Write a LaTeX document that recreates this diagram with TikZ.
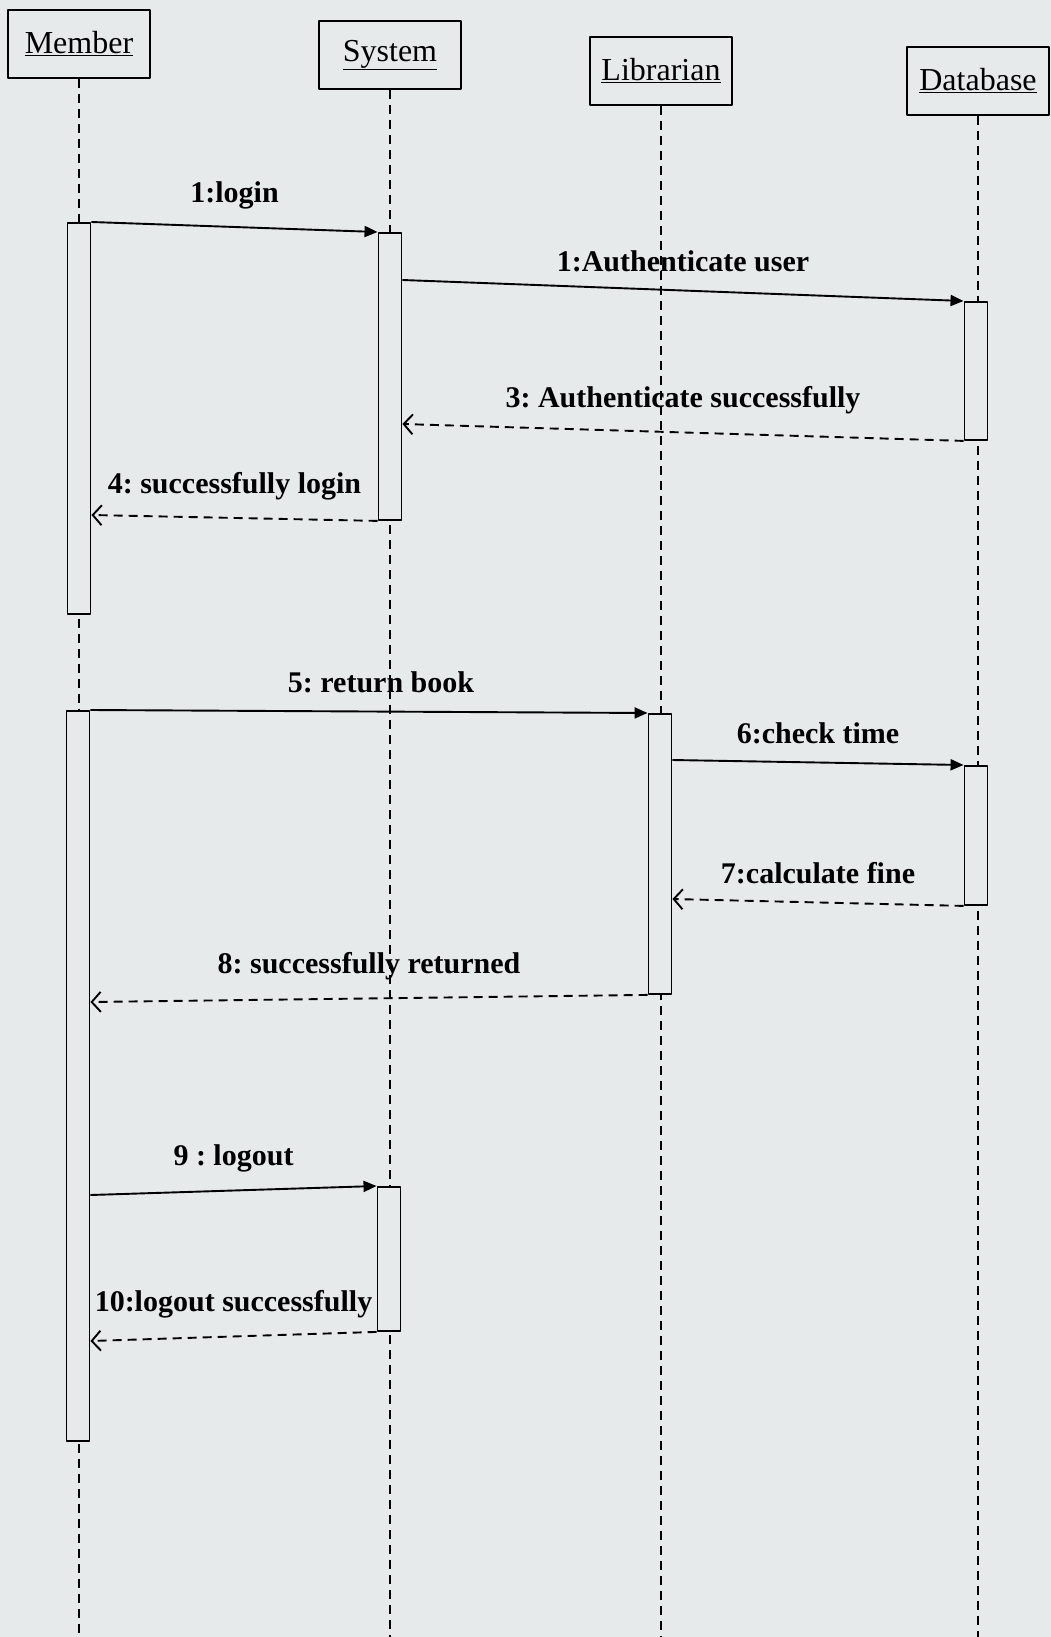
\documentclass[tikz,border=0pt]{standalone}
\usepackage{fontspec}
\setmainfont{Liberation Serif}
\usetikzlibrary{arrows.meta,calc}
\definecolor{paper}{RGB}{230,234,235}
\frenchspacing
\begin{document}
\begin{tikzpicture}[x=1pt,y=-1pt,line join=round,line width=1.9pt,
  head/.style={draw,fill=paper,minimum width=142pt,minimum height=68pt,font=\fontsize{32}{36}\selectfont},
  act/.style={draw,fill=paper,minimum width=23pt,anchor=north},
  life/.style={dash pattern=on 9pt off 6pt,line width=1.5pt},
  call/.style={-{Triangle[length=13pt,width=11pt]}},
  reply/.style={dash pattern=on 9pt off 6pt,-{Straight Barb[length=9pt,width=20pt]}},
  msg/.style={above=14pt,font=\bfseries\fontsize{30}{34}\selectfont}]
\fill[paper] (0,0) rectangle (1051,1637);
\useasboundingbox (0,0) rectangle (1051,1637);
% lifelines
\foreach \n/\t/\x/\y in {mem/Member/79/44, sys/System/390/55, lib/Librarian/661/71, db/Database/978/81}{
  \node[head] (\n) at (\x,\y) {\underline{\t}};
  \coordinate (\n end) at (\x,1637);
  \draw[life] (\n) -- (\n end);
}
% activations
\node[act,minimum height=391pt] (mem1) at (79,222) {};
\node[act,minimum height=287pt] (sys1) at (390,232) {};
\node[act,minimum height=138pt] (db1) at (976,301) {};
\node[act,minimum height=730pt] (mem2) at (78,710) {};
\node[act,minimum height=280pt] (lib1) at (660,713) {};
\node[act,minimum height=139pt] (db2) at (976,765) {};
\node[act,minimum height=144pt] (sys2) at (389,1186) {};
% login
\coordinate (s2) at (sys1.east |- 0,280);
\coordinate (s3) at (sys1.east |- 0,424);
\coordinate (m4) at (mem1.east |- 0,515);
\draw[call] (mem1.north east) -- (sys1.north west) node[msg,midway] {1:login};
\draw[call] (s2) -- (db1.north west) node[msg,midway] {1:Authenticate user};
\draw[reply] (db1.south west) -- (s3) node[msg,midway] {3: Authenticate successfully};
\draw[reply] (sys1.south west) -- (m4) node[msg,midway] {4: successfully login};
% return book
\coordinate (l6) at (lib1.east |- 0,760);
\coordinate (l7) at (lib1.east |- 0,899);
\coordinate (m8) at (mem2.east |- 0,1002);
\draw[call] (mem2.north east) -- (lib1.north west) node[msg,midway,xshift=12pt] {5: return book};
\draw[call] (l6) -- (db2.north west) node[msg,midway] {6:check time};
\draw[reply] (db2.south west) -- (l7) node[msg,midway] {7:calculate fine};
\draw[reply] (lib1.south west) -- (m8) node[msg,midway] {8: successfully returned};
% logout
\coordinate (m9) at (mem2.east |- 0,1195);
\coordinate (m10) at (mem2.east |- 0,1341);
\draw[call] (m9) -- (sys2.north west) node[msg,midway] {9 : logout};
\draw[reply] (sys2.south west) -- (m10) node[msg,midway] {10:logout successfully};
\end{tikzpicture}
\end{document}
